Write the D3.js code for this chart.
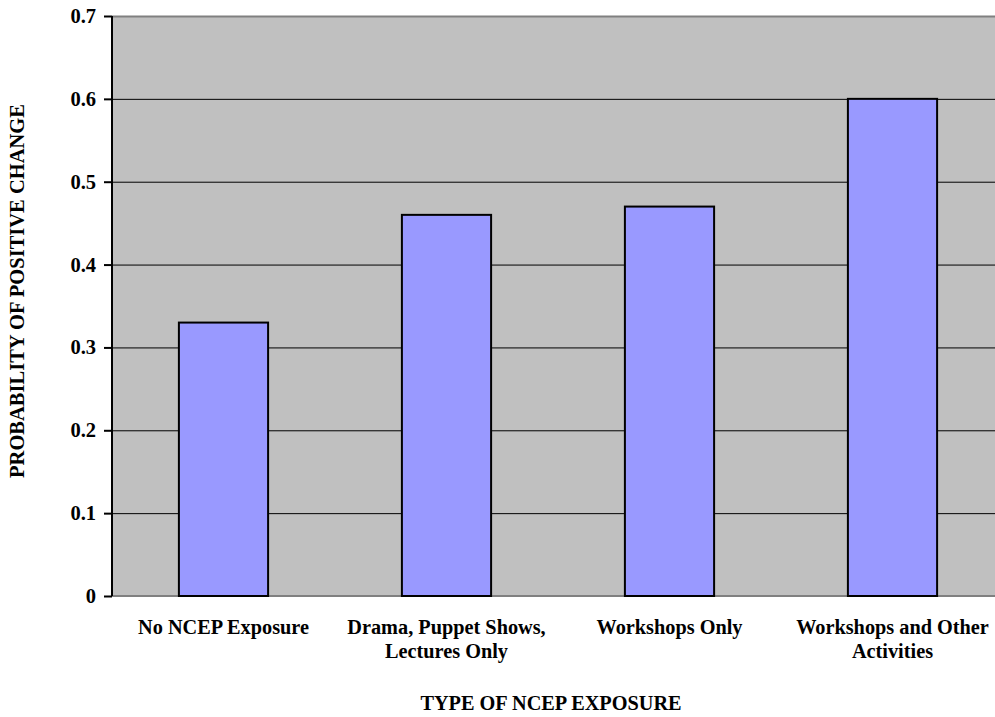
<!DOCTYPE html>
<html>
<head>
<meta charset="utf-8">
<script src="https://cdn.jsdelivr.net/npm/d3@7"></script>
<style>
  body { margin: 0; background: #fff; }
  text { font-family: "Liberation Serif", "Times New Roman", serif; font-weight: bold; fill: #000; }
</style>
</head>
<body>
<div id="chart"></div>
<script>
var categories = [["No NCEP Exposure"], ["Drama, Puppet Shows,", "Lectures Only"], ["Workshops Only"], ["Workshops and Other", "Activities"]];
var values = [0.33, 0.46, 0.47, 0.60];
var yTicks = [0, 0.1, 0.2, 0.3, 0.4, 0.5, 0.6, 0.7];

var W = 995, H = 717;
var margin = {top: 16, right: -9, bottom: 121, left: 112},
    width = W - margin.left - margin.right,
    height = H - margin.top - margin.bottom;

var svg = d3.select("#chart").append("svg")
    .attr("width", W).attr("height", H)
  .append("g")
    .attr("transform", "translate(" + margin.left + "," + margin.top + ")");

var x = d3.scaleBand()
    .domain(d3.range(categories.length))
    .range([0, width]);

var y = d3.scaleLinear()
    .domain([0, 0.7])
    .range([height, 0]);

// plot background
svg.append("rect")
    .attr("width", width).attr("height", height)
    .attr("fill", "#c0c0c0");

// gridlines
svg.append("g").selectAll("line")
    .data(yTicks.filter(function(d) { return d > 0 && d < 0.7; }))
  .enter().append("line")
    .attr("x1", 0).attr("x2", width)
    .attr("y1", function(d) { return y(d) + 0.5; })
    .attr("y2", function(d) { return y(d) + 0.5; })
    .attr("stroke", "#000").attr("stroke-width", 1);

// top border + baseline (gray)
svg.append("line")
    .attr("x1", 0).attr("x2", width)
    .attr("y1", 0.5).attr("y2", 0.5)
    .attr("stroke", "#808080").attr("stroke-width", 2);
svg.append("line")
    .attr("x1", 0).attr("x2", width)
    .attr("y1", height).attr("y2", height)
    .attr("stroke", "#808080").attr("stroke-width", 2);

// bars
var bw = x.bandwidth() * 0.4;
svg.append("g").selectAll("rect")
    .data(values)
  .enter().append("rect")
    .attr("x", function(d, i) { return x(i) + (x.bandwidth() - bw) / 2; })
    .attr("y", function(d) { return y(d); })
    .attr("width", bw)
    .attr("height", function(d) { return height - y(d); })
    .attr("fill", "#9999ff")
    .attr("stroke", "#000")
    .attr("stroke-width", 2);

// y axis
var yAxis = svg.append("g")
    .call(d3.axisLeft(y).tickValues(yTicks).tickSize(8).tickPadding(8)
      .tickFormat(function(d) { return d === 0 ? "0" : d3.format(".1f")(d); }));
yAxis.select(".domain").attr("stroke", "#000").attr("stroke-width", 2)
    .attr("d", "M0,0V" + height);
yAxis.selectAll(".tick line").attr("stroke", "#000").attr("stroke-width", 2);
yAxis.selectAll(".tick text")
    .style("font-family", "'Liberation Serif', serif")
    .style("font-weight", "bold")
    .style("font-size", "20.5px");

// category labels
var lab = svg.append("g").selectAll("text")
    .data(categories)
  .enter().append("text")
    .attr("text-anchor", "middle")
    .attr("x", function(d, i) { return x(i) + x.bandwidth() / 2; })
    .attr("y", 634 - margin.top)
    .style("font-size", "20.3px");
lab.selectAll("tspan")
    .data(function(d) { return d; })
  .enter().append("tspan")
    .attr("x", function() { return d3.select(this.parentNode).attr("x"); })
    .attr("dy", function(d, i) { return i === 0 ? 0 : 24; })
    .text(function(d) { return d; });

// axis titles
svg.append("text")
    .attr("text-anchor", "middle")
    .attr("x", 551 - margin.left)
    .attr("y", 710 - margin.top)
    .style("font-size", "20.3px")
    .text("TYPE OF NCEP EXPOSURE");

svg.append("text")
    .attr("text-anchor", "middle")
    .attr("transform", "translate(" + (24 - margin.left) + "," + (291 - margin.top) + ") rotate(-90)")
    .style("font-size", "20.5px")
    .text("PROBABILITY OF POSITIVE CHANGE");
</script>
</body>
</html>
